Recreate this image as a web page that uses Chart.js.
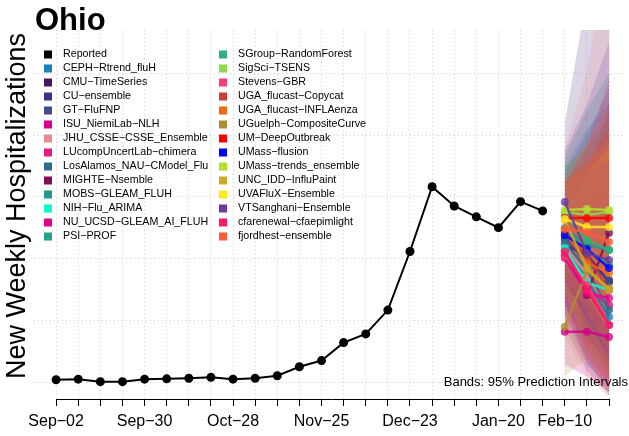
<!DOCTYPE html>
<html>
<head>
<meta charset="utf-8">
<script src="https://cdn.jsdelivr.net/npm/chart.js@4.4.1/dist/chart.umd.min.js"></script>
<style>
  body { margin: 0; background: #fff; }
  #wrap { width: 629px; height: 436px; position: relative; }
</style>
</head>
<body>
<div id="wrap"><canvas id="ohio_chart"></canvas></div>
<script>
const FONT = '"Liberation Sans", Arial, Helvetica, sans-serif';

// week ending dates on the x axis
const weeks = ['Sep−02', 'Sep−09', 'Sep−16', 'Sep−23', 'Sep−30', 'Oct−07', 'Oct−14', 'Oct−21',
  'Oct−28', 'Nov−04', 'Nov−11', 'Nov−18', 'Nov−25', 'Dec−02', 'Dec−09', 'Dec−16', 'Dec−23',
  'Dec−30', 'Jan−06', 'Jan−13', 'Jan−20', 'Jan−27', 'Feb−03', 'Feb−10', 'Feb−17', 'Feb−24'];
const shownWeeks = ['Sep−02', 'Sep−30', 'Oct−28', 'Nov−25', 'Dec−23', 'Jan−20', 'Feb−10'];
const yGrid = [0, 200, 400, 600, 800, 1000];

// reported weekly hospitalizations, Sep-02 .. Feb-03
const reported = [10, 12, 4, 4, 12, 13, 15, 18, 12, 15, 23, 52, 72, 130, 158, 235,
  424, 633, 571, 536, 501, 585, 555];

const forecastWeeks = ['Feb−10', 'Feb−17', 'Feb−24'];

const models = ['CEPH−Rtrend_fluH', 'CMU−TimeSeries', 'CU−ensemble', 'GT−FluFNP',
  'ISU_NiemiLab−NLH', 'JHU_CSSE−CSSE_Ensemble', 'LUcompUncertLab−chimera',
  'LosAlamos_NAU−CModel_Flu', 'MIGHTE−Nsemble', 'MOBS−GLEAM_FLUH', 'NIH−Flu_ARIMA',
  'NU_UCSD−GLEAM_AI_FLUH', 'PSI−PROF', 'SGroup−RandomForest', 'SigSci−TSENS', 'Stevens−GBR',
  'UGA_flucast−Copycat', 'UGA_flucast−INFLAenza', 'UGuelph−CompositeCurve', 'UM−DeepOutbreak',
  'UMass−flusion', 'UMass−trends_ensemble', 'UNC_IDD−InfluPaint', 'UVAFluX−Ensemble',
  'VTSanghani−Ensemble', 'cfarenewal−cfaepimlight', 'fjordhest−ensemble'];

const modelColors = ['#1a7fb5', '#4b1463', '#4a2d82', '#3f4e8e', '#d1048a', '#e88b92', '#e5197e',
  '#2c6c93', '#7c1158', '#22968a', '#00ffd0', '#e2068a', '#22a384', '#2db17a', '#8fd94a',
  '#ff3a75', '#cf3b3b', '#f0690f', '#b08d32', '#ff0000', '#0000ff', '#b2e02a', '#cdaa25',
  '#ffe81a', '#6a3a9e', '#ff1466', '#ff5a36'];

// median forecasts for the 3 forecast weeks
const median = [
  [461, 332, 213], [445, 413, 326], [477, 403, 329], [468, 390, 332], [165, 165, 148],
  [445, 348, 242], [413, 300, 252], [455, 365, 235], [429, 284, 484], [500, 445, 429],
  [435, 323, 300], [403, 290, 274], [494, 429, 381], [542, 461, 429], [552, 542, 552],
  [410, 316, 187], [487, 413, 300], [487, 387, 355], [181, 361, 306], [532, 532, 532],
  [477, 432, 371], [558, 561, 558], [526, 371, 300], [529, 503, 503], [584, 419, 397],
  [423, 300, 187], [497, 487, 455]];

// 95% prediction interval bounds
const lower95 = [
  [250, 120, 30], [260, 110, 20], [180, 40, -40], [300, 150, 60], [60, 20, -30],
  [150, 20, -50], [220, 80, 0], [250, 100, 10], [270, 120, 150], [300, 180, 100],
  [250, 60, -20], [220, 60, -10], [300, 150, 40], [360, 200, 100], [380, 260, 180],
  [270, 100, -20], [320, 150, 30], [330, 170, 60], [20, 80, -40], [410, 360, 300],
  [330, 200, 80], [420, 320, 200], [300, 100, 20], [400, 280, 170], [420, 150, 60],
  [250, 70, -30], [350, 230, 100]];
const upper95 = [
  [700, 820, 900], [650, 760, 850], [840, 1250, 1700], [640, 700, 760], [330, 380, 420],
  [760, 1010, 1400], [620, 720, 800], [680, 800, 950], [600, 640, 900], [730, 880, 1000],
  [620, 650, 720], [600, 700, 820], [700, 760, 850], [650, 700, 760], [660, 720, 790],
  [560, 600, 640], [650, 720, 780], [640, 700, 820], [420, 700, 800], [650, 700, 760],
  [620, 680, 720], [650, 700, 770], [700, 760, 850], [620, 680, 760], [750, 900, 1100],
  [640, 760, 980], [660, 780, 900]];

function rgba(hex, a) {
  const n = parseInt(hex.slice(1), 16);
  return 'rgba(' + (n >> 16) + ',' + ((n >> 8) & 255) + ',' + (n & 255) + ',' + a + ')';
}

const fx = forecastWeeks.map(w => weeks.indexOf(w));
const datasets = [];

datasets.push({
  label: 'Reported',
  data: reported.map((v, i) => ({ x: i, y: v })),
  borderColor: '#000', backgroundColor: '#000',
  borderWidth: 2, pointRadius: 4.5, pointBorderWidth: 0, order: 1
});

// higher order is painted first, so later models end up on top (as in R)
models.forEach((m, k) => {
  const col = modelColors[k];
  datasets.push({
    label: m + ' lower',
    data: fx.map((x, j) => ({ x: x, y: lower95[k][j] })),
    borderWidth: 0, pointRadius: 0, fill: false, order: 200 - k
  });
  datasets.push({
    label: m + ' upper',
    data: fx.map((x, j) => ({ x: x, y: upper95[k][j] })),
    borderWidth: 0, pointRadius: 0, fill: '-1',
    backgroundColor: rgba(col, 0.2), order: 200 - k
  });
  datasets.push({
    label: m,
    data: fx.map((x, j) => ({ x: x, y: median[k][j] })),
    borderColor: rgba(col, 0.85), backgroundColor: rgba(col, 0.8),
    borderWidth: 2.5, pointRadius: 4, pointBorderWidth: 0, order: 100 - k
  });
});

// title, legend, x axis line and note, drawn on top like the R figure
const decorations = {
  id: 'decorations',
  afterDraw(chart) {
    const ctx = chart.ctx;
    const xs = chart.scales.x;
    ctx.save();

    // axis line from first to last tick
    ctx.strokeStyle = '#000';
    ctx.lineWidth = 1;
    ctx.beginPath();
    ctx.moveTo(xs.getPixelForValue(0), xs.top + 0.5);
    ctx.lineTo(xs.getPixelForValue(weeks.length - 1), xs.top + 0.5);
    ctx.stroke();

    ctx.fillStyle = '#000';
    ctx.font = 'bold 31px ' + FONT;
    ctx.textBaseline = 'alphabetic';
    ctx.textAlign = 'left';
    ctx.fillText('Ohio', 35, 30);

    // y axis title, centred on the plot like R does
    ctx.save();
    ctx.translate(18, 206);
    ctx.rotate(-Math.PI / 2);
    ctx.font = '27px ' + FONT;
    ctx.textAlign = 'center';
    ctx.textBaseline = 'middle';
    ctx.fillText('New Weekly Hospitalizations', 0, 0);
    ctx.restore();

    // legend in two columns
    const names = ['Reported'].concat(models);
    const cols = ['#000000'].concat(modelColors);
    ctx.font = '10.7px ' + FONT;
    ctx.textBaseline = 'middle';
    ctx.textAlign = 'left';
    names.forEach((n, i) => {
      const c = i < 14 ? 0 : 1;
      const r = i % 14;
      const y = 54.5 + r * 14;
      const x0 = c === 0 ? 44 : 219;
      ctx.fillStyle = cols[i];
      ctx.fillRect(x0, y - 4, 8, 8);
      ctx.fillStyle = '#000';
      ctx.fillText(n, x0 + 19, y);
    });

    ctx.font = '13px ' + FONT;
    ctx.textAlign = 'right';
    ctx.fillText('Bands: 95% Prediction Intervals', 628, 382);
    ctx.restore();
  }
};

new Chart(document.getElementById('ohio_chart').getContext('2d'), {
  type: 'line',
  data: { datasets: datasets },
  options: {
    responsive: true,
    maintainAspectRatio: false,
    animation: false,
    devicePixelRatio: 1,
    layout: { padding: { top: 30, left: 0, right: 0, bottom: 0 } },
    plugins: {
      legend: { display: false },
      tooltip: { enabled: false },
      title: { display: false }
    },
    scales: {
      x: {
        type: 'linear',
        min: -1,
        max: 25.7,
        afterBuildTicks: s => { s.ticks = weeks.map((w, i) => ({ value: i })); },
        afterFit: s => { s.height = 37; },
        ticks: {
          autoSkip: false, maxRotation: 0, minRotation: 0, padding: 6,
          color: '#000', font: { size: 16, family: FONT },
          callback: v => (shownWeeks.includes(weeks[v]) ? weeks[v] : '')
        },
        grid: {
          color: '#cfcfcf', lineWidth: 1, tickLength: 7,
          tickColor: '#000', tickWidth: 1, tickBorderDash: []
        },
        border: { display: false, dash: [1, 3] }
      },
      y: {
        min: -52,
        max: 1139,
        afterBuildTicks: s => { s.ticks = yGrid.map(v => ({ value: v })); },
        afterFit: s => { s.width = 34; },
        ticks: { display: false },
        grid: { color: '#cfcfcf', lineWidth: 1, drawTicks: false },
        border: { display: false, dash: [1, 3] }
      }
    }
  },
  plugins: [decorations]
});
</script>
</body>
</html>
